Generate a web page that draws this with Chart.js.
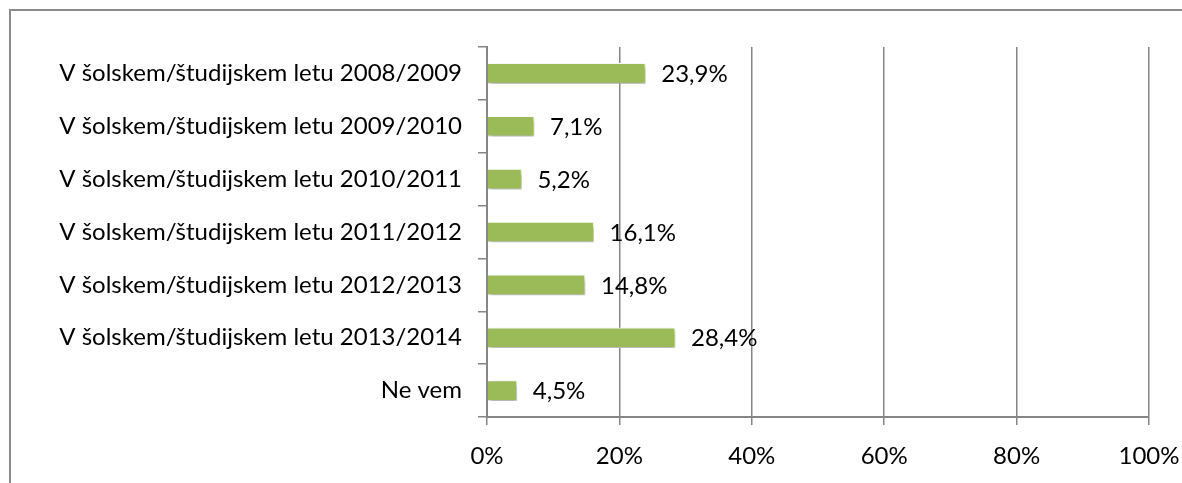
<!DOCTYPE html>
<html>
<head>
<meta charset="utf-8">
<script src="https://cdn.jsdelivr.net/npm/chart.js@4.4.1/dist/chart.umd.min.js"></script>
<style>
    html, body { margin: 0; padding: 0; background: #fff; overflow: hidden; }
    .wrap { position: relative; width: 1182px; height: 483px; }
    .frame {
        position: absolute; left: 9px; top: 9px; right: -20px; bottom: -20px;
        border: 2px solid #8c8c8c;
    }
    canvas { position: absolute; left: 0; top: 0; }
</style>
</head>
<body>
<div class="wrap">
    <div class="frame"></div>
    <canvas id="yearChart" width="1182" height="483"></canvas>
</div>
<script>
const categories = [
    'V šolskem/študijskem letu 2008/2009',
    'V šolskem/študijskem letu 2009/2010',
    'V šolskem/študijskem letu 2010/2011',
    'V šolskem/študijskem letu 2011/2012',
    'V šolskem/študijskem letu 2012/2013',
    'V šolskem/študijskem letu 2013/2014',
    'Ne vem'
];
const shares = [23.9, 7.1, 5.2, 16.1, 14.8, 28.4, 4.5];
const xTicks = [0, 20, 40, 60, 80, 100];

const FONT = 'Lato, "Open Sans", sans-serif';
const FONT_SIZE = 24;
const AXIS_GRAY = '#868686';

// soft drop shadow behind the bars, like the office chart style
const barShadow = {
    id: 'barShadow',
    beforeDatasetsDraw(chart) {
        const ctx = chart.ctx;
        ctx.save();
        ctx.shadowColor = 'rgba(0,0,0,0.35)';
        ctx.shadowBlur = 5;
        ctx.shadowOffsetX = 2;
        ctx.shadowOffsetY = 3;
    },
    afterDatasetsDraw(chart) {
        chart.ctx.restore();
    }
};

// value labels to the right of each bar
const valueLabels = {
    id: 'valueLabels',
    afterDraw(chart) {
        const ctx = chart.ctx;
        const meta = chart.getDatasetMeta(0);
        ctx.save();
        ctx.font = FONT_SIZE + 'px ' + FONT;
        ctx.fillStyle = '#000';
        ctx.textAlign = 'left';
        ctx.textBaseline = 'middle';
        meta.data.forEach((bar, i) => {
            const txt = shares[i].toFixed(1).replace('.', ',') + '%';
            ctx.fillText(txt, bar.x + 16, bar.y + 1);
        });
        ctx.restore();
    }
};

const ctx = document.getElementById('yearChart').getContext('2d');
new Chart(ctx, {
    type: 'bar',
    data: {
        labels: categories,
        datasets: [{
            data: shares,
            backgroundColor: '#9bbb59',
            borderColor: '#ffffff',
            borderWidth: 1,
            barThickness: 20
        }]
    },
    options: {
        indexAxis: 'y',
        responsive: false,
        animation: false,
        layout: { padding: { left: 0, top: 47, right: 33, bottom: 0 } },
        plugins: {
            legend: { display: false },
            tooltip: { enabled: false }
        },
        scales: {
            x: {
                min: 0,
                max: 100,
                afterFit(scale) {
                    scale.height = 66;
                    scale.paddingLeft = 0;
                    scale.paddingRight = 0;
                },
                afterBuildTicks(scale) {
                    scale.ticks = xTicks.map(v => ({ value: v }));
                },
                ticks: {
                    color: '#000',
                    font: { family: FONT, size: FONT_SIZE },
                    padding: 17,
                    maxRotation: 0,
                    callback: v => v + '%'
                },
                grid: {
                    color: AXIS_GRAY,
                    lineWidth: 1.5,
                    tickLength: 8
                },
                border: { color: AXIS_GRAY, width: 2 }
            },
            y: {
                afterFit(scale) { scale.width = 487; },
                ticks: {
                    color: '#000',
                    font: { family: FONT, size: FONT_SIZE },
                    padding: 16,
                    autoSkip: false
                },
                grid: {
                    drawOnChartArea: false,
                    color: AXIS_GRAY,
                    lineWidth: 1.5,
                    tickLength: 9
                },
                border: { color: AXIS_GRAY, width: 2 }
            }
        }
    },
    plugins: [barShadow, valueLabels]
});
</script>
</body>
</html>
